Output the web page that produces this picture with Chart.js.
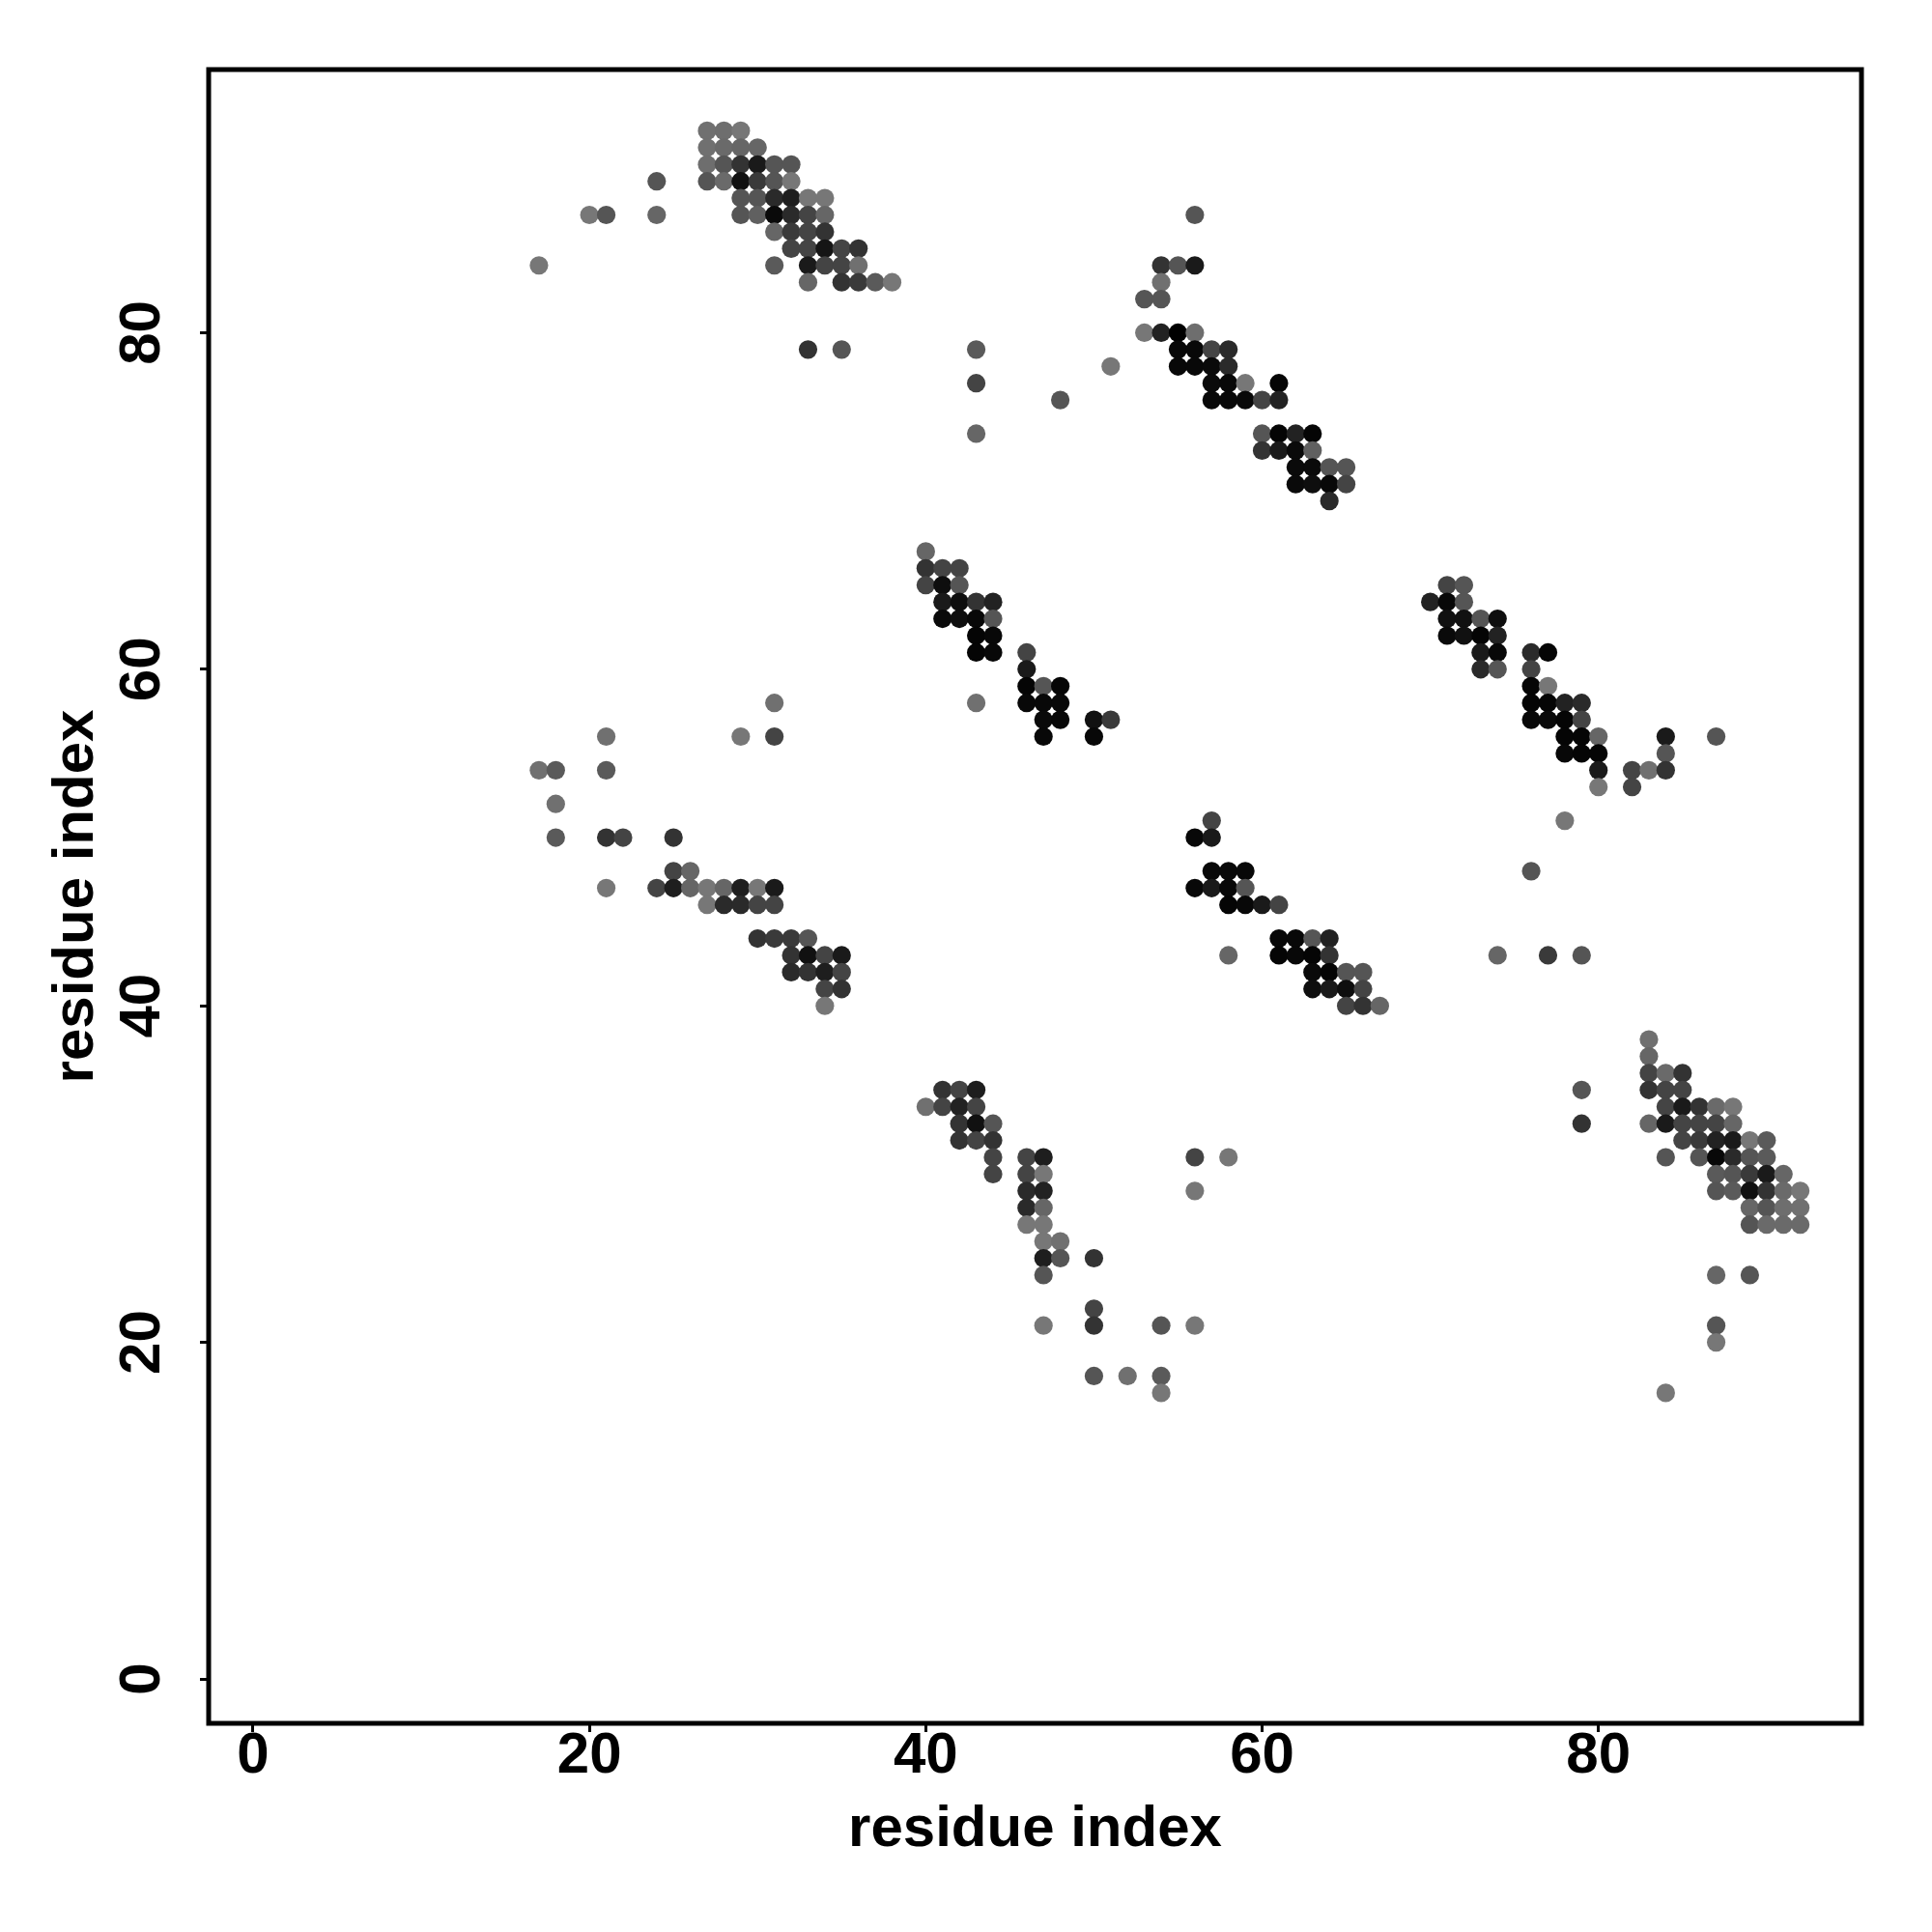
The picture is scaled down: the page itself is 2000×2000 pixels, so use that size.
<!DOCTYPE html>
<html>
<head>
<meta charset="utf-8">
<title>contact map</title>
<script src="https://cdn.jsdelivr.net/npm/chart.js@4.4.1/dist/chart.umd.min.js"></script>
<style>
  html, body { margin: 0; padding: 0; background: #fff; }
  #wrap { width: 2000px; height: 2000px; }
</style>
</head>
<body>
<div id="wrap"><canvas id="contactMap" width="2000" height="2000"></canvas></div>
<script>
// ==================== DADOS ====================
// each row: one residue index on y, the contacting residues on x, and their grey level (0 = black)
const rowY = [92, 91, 90, 89, 88, 87, 86, 85, 84, 83, 82, 80, 79, 78, 77, 76, 74, 73, 72, 71, 70,
  67, 66, 65, 64, 63, 62, 61, 60, 59, 58, 57, 56, 55, 54, 53, 52, 51, 50, 48, 47, 46, 44, 43, 42, 41, 40,
  38, 37, 36, 35, 34, 33, 32, 31, 30, 29, 28, 27, 26, 25, 24, 22, 21, 20, 18, 17];

const rowX = [
  [27, 28, 29],
  [27, 28, 29, 30],
  [27, 28, 29, 30, 31, 32],
  [24, 27, 28, 29, 30, 31, 32],
  [29, 30, 31, 32, 33, 34],
  [20, 21, 24, 29, 30, 31, 32, 33, 34, 56],
  [31, 32, 33, 34],
  [32, 33, 34, 35, 36],
  [17, 31, 33, 34, 35, 36, 54, 55, 56],
  [33, 35, 36, 37, 38, 54],
  [53, 54],
  [53, 54, 55, 56],
  [33, 35, 43, 55, 56, 57, 58],
  [51, 55, 56, 57, 58],
  [43, 57, 58, 59, 61],
  [48, 57, 58, 59, 60, 61],
  [43, 60, 61, 62, 63],
  [60, 61, 62, 63],
  [62, 63, 64, 65],
  [62, 63, 64, 65],
  [64],
  [40],
  [40, 41, 42],
  [40, 41, 42, 71, 72],
  [41, 42, 43, 44, 70, 71, 72],
  [41, 42, 43, 44, 71, 72, 73, 74],
  [43, 44, 71, 72, 73, 74],
  [43, 44, 46, 73, 74, 76, 77],
  [46, 73, 74, 76],
  [46, 47, 48, 76, 77],
  [31, 43, 46, 47, 48, 76, 77, 78, 79],
  [47, 48, 50, 51, 76, 77, 78, 79],
  [21, 29, 31, 47, 50, 78, 79, 80, 84, 87],
  [78, 79, 80, 84],
  [17, 18, 21, 80, 82, 83, 84],
  [80, 82],
  [18],
  [57, 78],
  [18, 21, 22, 25, 56, 57],
  [25, 26, 57, 58, 59, 76],
  [21, 24, 25, 26, 27, 28, 29, 30, 31, 56, 57, 58, 59],
  [27, 28, 29, 30, 31, 58, 59, 60, 61],
  [30, 31, 32, 33, 61, 62, 63, 64],
  [32, 33, 34, 35, 58, 61, 62, 63, 64, 74, 77, 79],
  [32, 33, 34, 35, 63, 64, 65, 66],
  [34, 35, 63, 64, 65, 66],
  [34, 65, 66, 67],
  [83],
  [83],
  [83, 84, 85],
  [41, 42, 43, 79, 83, 84, 85],
  [40, 41, 42, 43, 84, 85, 86, 87, 88],
  [42, 43, 44, 79, 83, 84, 85, 86, 87, 88],
  [42, 43, 44, 85, 86, 87, 88, 89, 90],
  [44, 46, 47, 56, 58, 84, 86, 87, 88, 89, 90],
  [44, 46, 47, 87, 88, 89, 90, 91],
  [46, 47, 56, 87, 88, 89, 90, 91, 92],
  [46, 47, 89, 90, 91, 92],
  [46, 47, 89, 90, 91, 92],
  [47, 48],
  [47, 48, 50],
  [47, 87, 89],
  [50],
  [47, 50, 54, 56, 87],
  [87],
  [50, 52, 54],
  [54, 84]
];

const rowGrey = [
  [112, 110, 119],
  [112, 106, 102, 102],
  [110, 85, 51, 26, 85, 85],
  [85, 85, 106, 17, 58, 85, 119],
  [85, 85, 42, 30, 119, 119],
  [119, 85, 102, 85, 96, 10, 42, 68, 102, 85],
  [102, 58, 68, 51],
  [68, 68, 21, 68, 51],
  [119, 90, 26, 68, 68, 112, 51, 85, 26],
  [102, 51, 58, 90, 119, 112],
  [85, 85],
  [119, 34, 0, 110],
  [51, 85, 90, 8, 8, 68, 42],
  [119, 8, 8, 10, 42],
  [68, 10, 8, 119, 5],
  [85, 8, 8, 8, 68, 34],
  [102, 85, 5, 34, 5],
  [51, 26, 10, 96],
  [10, 10, 85, 85],
  [10, 14, 8, 68],
  [42],
  [102],
  [51, 68, 68],
  [68, 14, 85, 68, 85],
  [26, 14, 51, 34, 34, 8, 85],
  [10, 14, 8, 85, 17, 17, 85, 14],
  [5, 8, 10, 17, 5, 34],
  [5, 8, 68, 26, 8, 42, 5],
  [26, 42, 85, 68],
  [5, 85, 5, 5, 119],
  [112, 112, 8, 8, 8, 5, 5, 34, 42],
  [10, 8, 17, 58, 8, 10, 5, 68],
  [112, 119, 68, 8, 8, 5, 5, 102, 26, 85],
  [8, 5, 5, 85],
  [112, 90, 90, 26, 68, 112, 51],
  [119, 68],
  [112],
  [68, 119],
  [90, 51, 68, 51, 8, 26],
  [68, 102, 8, 8, 8, 85],
  [119, 68, 30, 102, 119, 102, 30, 119, 26, 8, 26, 8, 85],
  [119, 42, 42, 68, 68, 5, 8, 26, 68],
  [51, 58, 58, 85, 8, 8, 85, 34],
  [51, 17, 68, 26, 102, 5, 8, 5, 51, 102, 58, 85],
  [42, 51, 30, 68, 10, 5, 85, 85],
  [68, 51, 14, 26, 14, 68],
  [119, 68, 51, 102],
  [112],
  [102],
  [68, 106, 51],
  [51, 68, 30, 85, 51, 68, 68],
  [112, 68, 34, 68, 68, 26, 51, 106, 119],
  [51, 17, 85, 51, 102, 26, 68, 68, 68, 102],
  [51, 68, 51, 68, 58, 34, 26, 119, 90],
  [68, 68, 30, 68, 119, 85, 85, 8, 42, 85, 90],
  [68, 68, 119, 90, 85, 58, 26, 102],
  [42, 34, 119, 85, 90, 17, 51, 106, 119],
  [42, 102, 102, 85, 110, 112],
  [119, 119, 85, 106, 106, 106],
  [119, 112],
  [30, 85, 51],
  [85, 102, 85],
  [68],
  [119, 51, 85, 119, 85],
  [119],
  [85, 112, 90],
  [119, 119]
];

const xTicks = [0, 20, 40, 60, 80];
const yTicks = [0, 20, 40, 60, 80];
const axisTitle = 'residue index';
// residues 1..92 plus the usual 4% margin on each side
const axisMin = -2.64;
const axisMax = 95.64;

// ==================== MONTAGEM ====================
const FONT = '"Liberation Sans", Arial, Helvetica, sans-serif';
const FONT_SIZE = 60;
const points = [];
const colors = [];
rowY.forEach((yv, i) => {
  if (rowX[i].length !== rowGrey[i].length) console.error('row mismatch at y =', yv);
  rowX[i].forEach((xv, j) => {
    const g = rowGrey[i][j];
    points.push({ x: xv, y: yv });
    colors.push(`rgb(${g},${g},${g})`);
  });
});

// box around the plot + rotated y tick labels
const frameAndLabels = {
  id: 'frameAndLabels',
  afterDraw(chart) {
    const { ctx, chartArea: a } = chart;
    const yScale = chart.scales.y;
    ctx.save();
    ctx.strokeStyle = '#000';
    ctx.lineWidth = 5;
    ctx.strokeRect(a.left, a.top, a.right - a.left, a.bottom - a.top);

    ctx.font = `bold ${FONT_SIZE}px ${FONT}`;
    ctx.fillStyle = '#000';
    ctx.textAlign = 'center';
    ctx.textBaseline = 'middle';
    yTicks.forEach((v) => {
      ctx.save();
      ctx.translate(148, yScale.getPixelForValue(v));
      ctx.rotate(-Math.PI / 2);
      ctx.fillText(String(v), 0, 0);
      ctx.restore();
    });
    ctx.restore();
  }
};

const tickGrid = {
  display: true,
  drawOnChartArea: false,
  drawTicks: true,
  tickLength: 9,
  lineWidth: 3,
  color: '#000'
};

const labelFont = { family: FONT, size: FONT_SIZE, weight: 'bold', lineHeight: 1 };

new Chart(document.getElementById('contactMap'), {
  type: 'scatter',
  data: {
    datasets: [{
      data: points,
      pointBackgroundColor: colors,
      pointBorderColor: colors,
      pointBorderWidth: 0,
      pointRadius: 9.6,
      pointHoverRadius: 9.6
    }]
  },
  options: {
    responsive: false,
    animation: false,
    events: [],
    layout: { padding: { top: 72, right: 73, left: 0, bottom: 0 } },
    plugins: { legend: { display: false }, tooltip: { enabled: false } },
    scales: {
      x: {
        type: 'linear',
        position: 'bottom',
        min: axisMin,
        max: axisMax,
        afterBuildTicks: (s) => { s.ticks = xTicks.map((v) => ({ value: v })); },
        afterFit: (s) => { s.height = 216; },
        grid: tickGrid,
        border: { display: false },
        ticks: {
          color: '#000',
          font: labelFont,
          padding: -5,
          maxRotation: 0,
          autoSkip: false
        },
        title: {
          display: true,
          text: axisTitle,
          color: '#000',
          font: labelFont,
          padding: { top: 0, bottom: 76 }
        }
      },
      y: {
        type: 'linear',
        position: 'left',
        min: axisMin,
        max: axisMax,
        afterBuildTicks: (s) => { s.ticks = yTicks.map((v) => ({ value: v })); },
        afterFit: (s) => { s.width = 216; },
        grid: tickGrid,
        border: { display: false },
        ticks: { display: false },
        title: {
          display: true,
          text: axisTitle,
          color: '#000',
          font: labelFont,
          padding: { top: 49, bottom: 0 }
        }
      }
    }
  },
  plugins: [frameAndLabels]
});
</script>
</body>
</html>
